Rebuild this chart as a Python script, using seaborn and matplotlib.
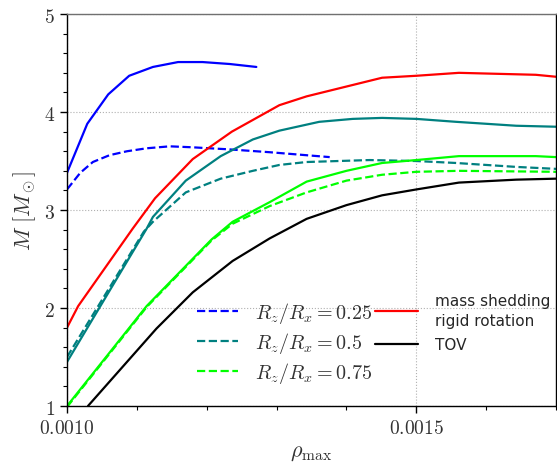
import numpy as np
import pandas as pd
import matplotlib
matplotlib.use("Agg")
import matplotlib.pyplot as plt
from matplotlib.ticker import MultipleLocator
import seaborn as sns

sns.set_style("white")
plt.rcParams["mathtext.fontset"] = "cm"
plt.rcParams["font.family"] = ["DejaVu Sans"]

# ---- data ----
blue_solid_rho = [0.001000, 0.001029, 0.001059, 0.001089, 0.001123, 0.001159, 0.001194, 0.001233, 0.001271]
blue_solid_M = [3.38, 3.88, 4.18, 4.37, 4.46, 4.51, 4.51, 4.49, 4.46]

blue_dash_rho = [0.001000, 0.001019, 0.001037, 0.001061, 0.001086, 0.001114, 0.001147, 0.001180, 0.001204, 0.001230, 0.001290, 0.001376]
blue_dash_M = [3.21, 3.38, 3.49, 3.56, 3.60, 3.63, 3.65, 3.64, 3.63, 3.62, 3.59, 3.54]

teal_solid_rho = [0.001000, 0.001114, 0.001123, 0.001170, 0.001220, 0.001266, 0.001304, 0.001361, 0.001409, 0.001451, 0.001500, 0.001557, 0.001643, 0.001700]
teal_solid_M = [1.45, 2.81, 2.93, 3.30, 3.55, 3.72, 3.81, 3.90, 3.93, 3.94, 3.93, 3.90, 3.86, 3.85]

teal_dash_rho = [0.001000, 0.001110, 0.001123, 0.001170, 0.001220, 0.001266, 0.001304, 0.001343, 0.001433, 0.001500, 0.001557, 0.001643, 0.001700]
teal_dash_M = [1.50, 2.78, 2.88, 3.18, 3.32, 3.40, 3.46, 3.49, 3.51, 3.50, 3.48, 3.44, 3.42]

green_solid_rho = [0.001000, 0.001114, 0.001207, 0.001237, 0.001290, 0.001343, 0.001400, 0.001451, 0.001500, 0.001561, 0.001671, 0.001700]
green_solid_M = [1.00, 2.02, 2.70, 2.88, 3.08, 3.29, 3.40, 3.48, 3.51, 3.55, 3.55, 3.54]

green_dash_rho = [0.001000, 0.001114, 0.001207, 0.001237, 0.001290, 0.001343, 0.001400, 0.001451, 0.001500, 0.001561, 0.001700]
green_dash_M = [0.99, 2.01, 2.69, 2.86, 3.04, 3.18, 3.30, 3.36, 3.39, 3.40, 3.39]

red_rho = [0.001000, 0.001016, 0.001094, 0.001126, 0.001180, 0.001236, 0.001304, 0.001343, 0.001451, 0.001500, 0.001561, 0.001671, 0.001700]
red_M = [1.80, 2.02, 2.81, 3.12, 3.52, 3.80, 4.07, 4.16, 4.35, 4.37, 4.40, 4.38, 4.36]

tov_rho = [0.001030, 0.001128, 0.001180, 0.001237, 0.001290, 0.001343, 0.001400, 0.001451, 0.001500, 0.001561, 0.001643, 0.001700]
tov_M = [1.00, 1.79, 2.16, 2.48, 2.71, 2.91, 3.05, 3.15, 3.21, 3.28, 3.31, 3.32]

dash_labels = [r"$R_z/R_x = 0.25$", r"$R_z/R_x = 0.5$", r"$R_z/R_x = 0.75$"]
solid_labels = ["mass shedding\nrigid rotation", "TOV"]
x_ticks = [0.0010, 0.0015]
x_ticklabels = [r"$0.0010$", r"$0.0015$"]
y_ticks = [1, 2, 3, 4, 5]
y_ticklabels = [r"$1$", r"$2$", r"$3$", r"$4$", r"$5$"]

fig = plt.figure(figsize=(5.57, 4.64), dpi=100)
ax = fig.add_axes([0.1203, 0.1228, 0.878, 0.8448])

def draw(x, y, color, ls):
    sns.lineplot(x=x, y=y, ax=ax, color=color, linestyle=ls, linewidth=1.6,
                 legend=False, sort=False, estimator=None)
    return ax.lines[-1]

draw(blue_solid_rho, blue_solid_M, "#0000ff", "-")
l_b = draw(blue_dash_rho, blue_dash_M, "#0000ff", "--")
draw(teal_solid_rho, teal_solid_M, "#008080", "-")
l_t = draw(teal_dash_rho, teal_dash_M, "#008080", "--")
draw(green_solid_rho, green_solid_M, "#00ff00", "-")
l_g = draw(green_dash_rho, green_dash_M, "#00ff00", "--")
l_r = draw(red_rho, red_M, "#ff0000", "-")
l_k = draw(tov_rho, tov_M, "#000000", "-")

ax.set_xlim(0.0010, 0.0017)
ax.set_ylim(1, 5)
ax.set_xticks(x_ticks)
ax.set_xticklabels(x_ticklabels, fontsize=14)
ax.xaxis.set_minor_locator(MultipleLocator(0.0001))
ax.set_yticks(y_ticks)
ax.set_yticklabels(y_ticklabels, fontsize=14)
ax.yaxis.set_minor_locator(MultipleLocator(0.2))
ax.tick_params(which="major", direction="out", length=5, width=1, left=True, bottom=True, colors="black", labelcolor="#333333")
ax.tick_params(which="minor", direction="out", length=3, width=0.8, left=True, bottom=True, colors="black")
ax.grid(True, which="major", linestyle=":", color="#b0b0b0", linewidth=0.8)

for side in ["left", "bottom", "right"]:
    ax.spines[side].set_color("black")
    ax.spines[side].set_linewidth(1.0)
ax.spines["top"].set_color("#707070")
ax.spines["top"].set_linewidth(1.0)

ax.set_xlabel(r"$\rho_{\rm max}$", fontsize=16, color="#333333", labelpad=4)
ax.set_ylabel(r"$M\ [M_\odot]$", fontsize=16, color="#333333")

leg1 = ax.legend([l_b, l_t, l_g], dash_labels, loc="center left", bbox_to_anchor=(0.266, 0.163),
                 frameon=False, fontsize=14.5, handlelength=2.05, labelspacing=0.25,
                 handletextpad=0.85, borderpad=0, borderaxespad=0)
for t in leg1.get_texts():
    t.set_color("#333333")
ax.add_artist(leg1)
leg2 = ax.legend([l_r, l_k], solid_labels, loc="center left", bbox_to_anchor=(0.630, 0.212),
                 frameon=False, fontsize=11, handlelength=2.8, labelspacing=0.6,
                 handletextpad=1.1, borderpad=0, borderaxespad=0)
for t in leg2.get_texts():
    t.set_linespacing(1.4)

fig.savefig("out.png", dpi=100)
